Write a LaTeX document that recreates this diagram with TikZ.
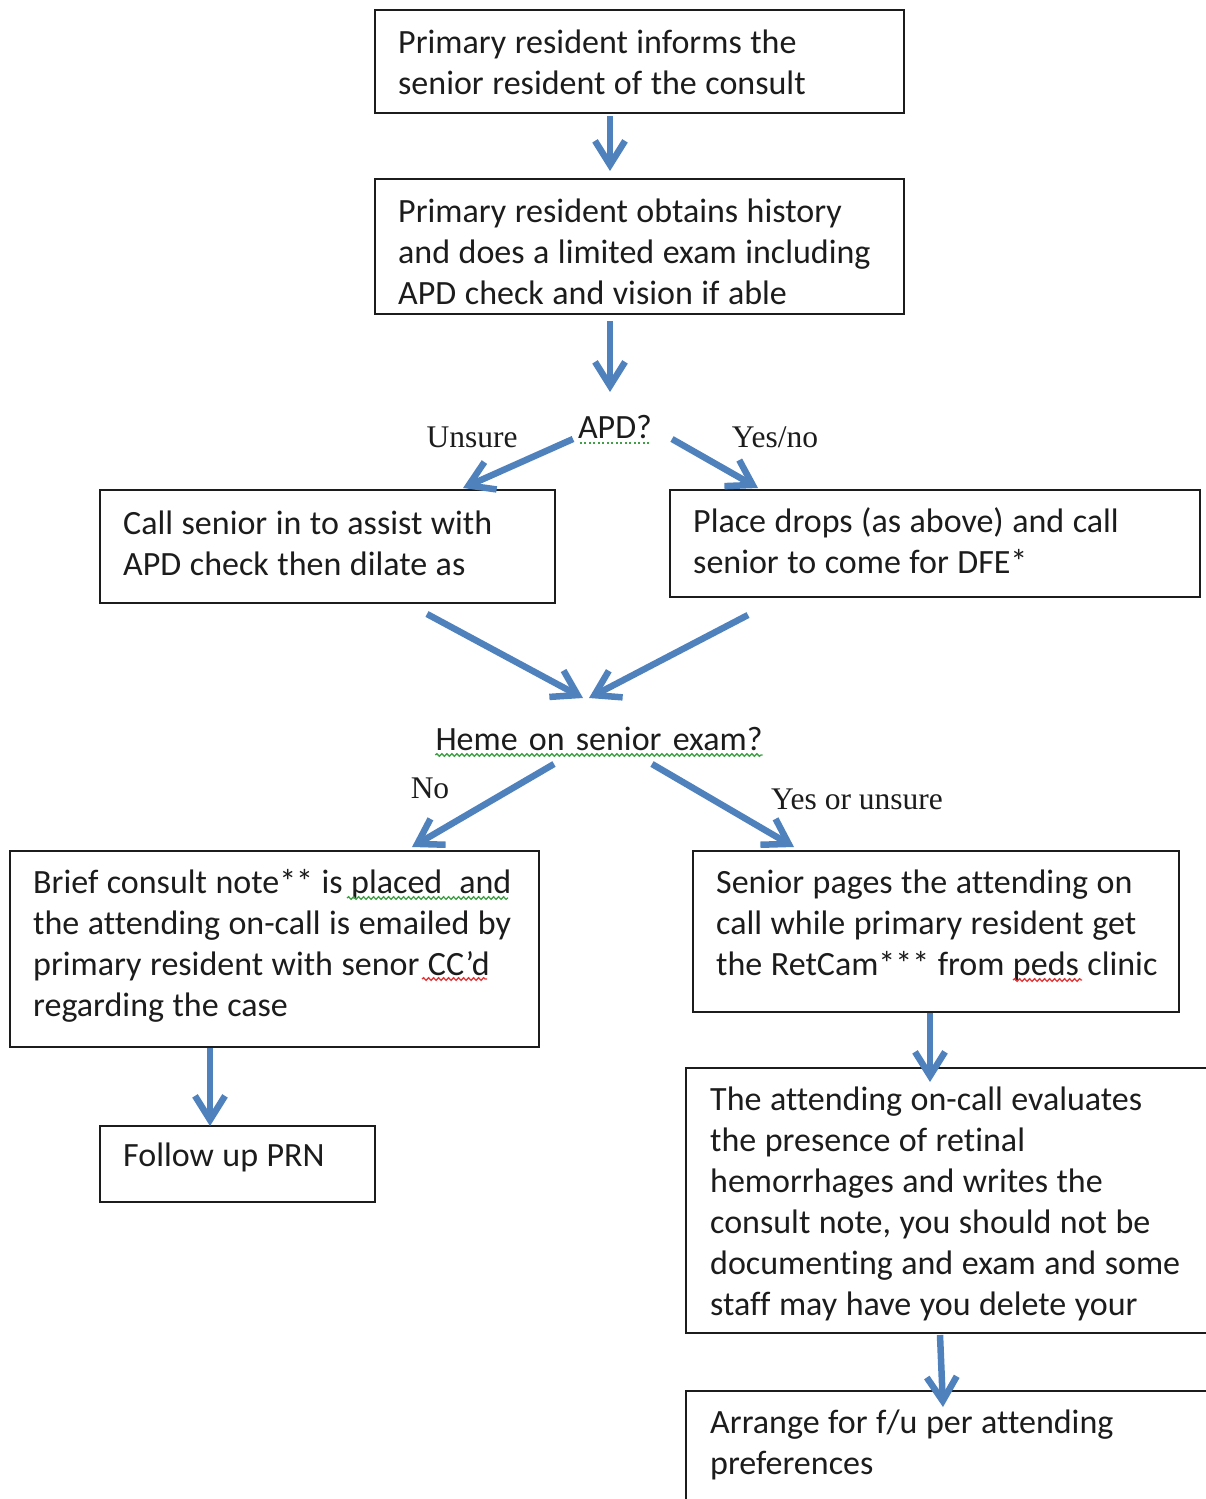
\documentclass[tikz,border=0pt]{standalone}
\usepackage{fontspec}
\setmainfont[RawFeature=-liga]{Carlito}
\newfontfamily\labelfont{Liberation Serif}
\usetikzlibrary{arrows.meta,decorations.pathmorphing}
\definecolor{flowblue}{HTML}{4F81BD}
\definecolor{inkblack}{HTML}{1C1C1C}
\definecolor{checkgreen}{HTML}{3FA046}
\definecolor{checkred}{HTML}{E2383A}
\begin{document}
\begin{tikzpicture}[x=1pt,y=-1pt,
  stepbox/.style={draw=inkblack, line width=2pt, inner sep=0pt, outer sep=0pt},
  steptext/.style={anchor=base west, inner sep=0pt, text width=600pt, align=left,
    font=\fontsize{34}{41}\selectfont, text=inkblack,
    execute at begin node={\spaceskip=0.25em\relax}},
  question/.style={anchor=base, inner sep=0pt, font=\fontsize{34}{41}\selectfont, text=inkblack,
    execute at begin node={\spaceskip=0.33em\relax}},
  answer/.style={anchor=base, inner sep=0pt, font=\labelfont\fontsize{31.5}{36}\selectfont, text=inkblack},
  flow/.style={draw=flowblue, line width=6.5pt, -{Straight Barb[length=24pt,width=30pt]}},
  grammarline/.style={draw=checkgreen, line width=1.3pt, decorate,
    decoration={snake, amplitude=1.3pt, segment length=5pt}},
  spellline/.style={draw=checkred, line width=1.3pt, decorate,
    decoration={snake, amplitude=1.3pt, segment length=5pt}},
]
\useasboundingbox (0,0) rectangle (1206,1499);
\clip (0,0) rectangle (1206,1499);

% ---------- boxes ----------
\node[stepbox, minimum width=529pt, minimum height=103pt] (b1) at (639.5,61.5) {};
\node[stepbox, minimum width=529pt, minimum height=135pt] (b2) at (639.5,246.5) {};
\node[stepbox, minimum width=455pt, minimum height=113pt] (b3) at (327.5,546.5) {};
\node[stepbox, minimum width=530pt, minimum height=107pt] (b4) at (935,543.5) {};
\node[stepbox, minimum width=529pt, minimum height=196pt] (b5) at (274.5,949) {};
\node[stepbox, minimum width=486pt, minimum height=161pt] (b6) at (936,931.5) {};
\node[stepbox, minimum width=275pt, minimum height=76pt]  (b7) at (237.5,1164) {};
\node[stepbox, minimum width=544pt, minimum height=265pt] (b8) at (958,1200.5) {};
\node[stepbox, minimum width=544pt, minimum height=139pt] (b9) at (958,1460.5) {};

% ---------- box texts ----------
\node[steptext] (t1) at (398,53) {Primary resident informs the\\senior resident of the consult};
\node[steptext] (t2) at (398,222) {Primary resident obtains history\\and does a limited exam including\\APD check and vision if able};
\node[steptext] (t3) at (123,534) {Call senior in to assist with\\APD check then dilate as};
\node[steptext] (t4) at (693,532) {Place drops (as above) and call\\senior to come for DFE*};
\node[steptext] (t5) at (33,893) {Brief consult note** is placed\ \ and\\the attending on-call is\ emailed by\\primary resident with senor CC’d\\regarding the case};
\node[steptext] (t6) at (716,893) {Senior pages the attending on\\call while primary resident get\\the RetCam*** from peds clinic};
\node[steptext] (t7) at (123,1166) {Follow up PRN};
\node[steptext] (t8) at (710,1110) {The attending on-call\ evaluates\\the presence of retinal\\hemorrhages and writes the\\consult note, you should not be\\documenting and exam and some\\staff may have you delete your};
\node[steptext] (t9) at (710,1433) {Arrange for f/u per attending\\preferences};

% ---------- decision questions and answers ----------
\node[question] (apd) at (615,438) {APD?};
\node[question] (heme) at (599,750) {Heme on senior exam?};
\node[answer] (unsure) at (472,447) {Unsure};
\node[answer] (yesno) at (775,447) {Yes/no};
\node[answer] (no) at (430,798) {No};
\node[answer] (yesunsure) at (857,809) {Yes or unsure};

% ---------- proofing marks under words ----------
\draw[draw=checkgreen, line width=1.5pt, dash pattern=on 2pt off 2.5pt] (apd.base west) ++(2,5) -- ([xshift=-1pt,yshift=-5pt]apd.base east);
\draw[grammarline] ([yshift=-5pt]heme.base west) -- ([yshift=-5pt]heme.base east);
\draw[grammarline] (347,898) -- (508,898);
\draw[spellline] (422,979) -- (487,979);
\draw[spellline] (1013,980) -- (1082,980);

% ---------- arrow end points ----------
\coordinate (x610) at (610,0);
\coordinate (x210) at (210,0);
\coordinate (x930) at (930,0);
\coordinate (apdin) at (610,392);
\coordinate (apdL) at (573,439);
\coordinate (apdR) at (672,439);
\coordinate (b3in) at (463,488);
\coordinate (b4in) at (758,488);
\coordinate (b3out) at (427,614);
\coordinate (b4out) at (748,615);
\coordinate (mergeL) at (583,698);
\coordinate (mergeR) at (589,698);
\coordinate (hemeL) at (554,764);
\coordinate (hemeR) at (652,764);
\coordinate (b5in) at (412,847);
\coordinate (b6in) at (794,847);
\coordinate (b8out) at (940,1335);
\coordinate (b9in) at (943,1407);

% ---------- connectors ----------
\draw[flow] ([yshift=-3pt]b1.south -| x610) -- ([yshift=8pt]b2.north -| x610);
\draw[flow] ([yshift=-7pt]b2.south -| x610) -- (apdin);
\draw[flow] (apdL) -- (b3in);
\draw[flow] (apdR) -- (b4in);
\draw[flow] (b3out) -- (mergeL);
\draw[flow] (b4out) -- (mergeR);
\draw[flow] (hemeL) -- (b5in);
\draw[flow] (hemeR) -- (b6in);
\draw[flow] ([yshift=-1pt]b5.south -| x210) -- (b7.north -| x210);
\draw[flow] ([yshift=-1pt]b6.south -| x930) -- ([yshift=-14pt]b8.north -| x930);
\draw[flow] (b8out) -- (b9in);
\end{tikzpicture}
\end{document}
